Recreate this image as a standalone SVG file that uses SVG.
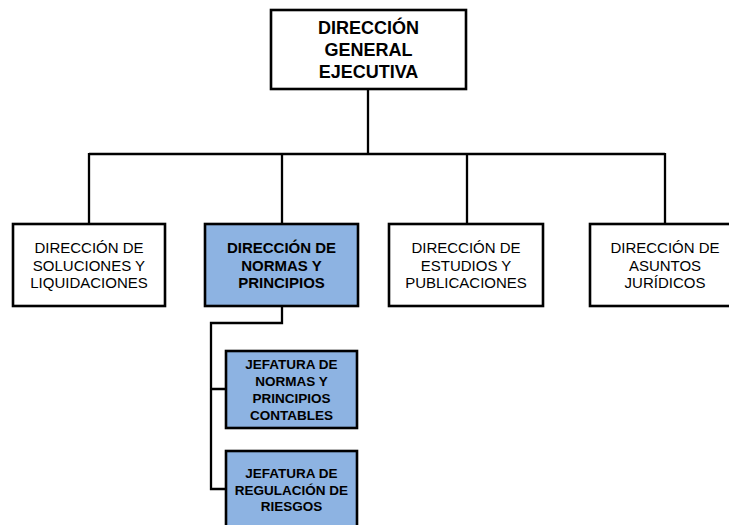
<svg xmlns="http://www.w3.org/2000/svg" width="729" height="525" viewBox="0 0 729 525">
<style>
.box{fill:#ffffff;stroke:#000;stroke-width:2.6}
.blue{fill:#8DB3E2;stroke:#000;stroke-width:2.6}
.t{font-family:"Liberation Sans",Arial,sans-serif;text-anchor:middle;fill:#000}
.r{font-size:15px}
.b{font-size:15px;font-weight:bold}
.top{font-size:18px;font-weight:bold}
.j{font-size:13.5px;font-weight:bold}
.c{fill:none;stroke:#000;stroke-width:2.3}
</style>
<rect width="729" height="525" fill="#fff"/>
<g id="connectors">
<path class="c" d="M368,89 V154 M89,154 H665 M89,153 V224 M282,153 V224 M467,153 V224 M665,153 V224"/>
<path class="c" d="M282,306 V323 H211 V489 H226 M211,389 H226"/>
</g>
<g id="dge">
<rect class="box" x="271" y="10" width="195" height="79"/>
<text class="t top"><tspan x="368.5" y="33.5">DIRECCIÓN</tspan><tspan x="368.5" y="55.5">GENERAL</tspan><tspan x="368.5" y="77.5">EJECUTIVA</tspan></text>
</g>
<g id="dsl">
<rect class="box" x="13" y="224" width="152" height="82"/>
<text class="t r"><tspan x="89" y="253">DIRECCIÓN DE</tspan><tspan x="89" y="270.5">SOLUCIONES Y</tspan><tspan x="89" y="288">LIQUIDACIONES</tspan></text>
</g>
<g id="dnp">
<rect class="blue" x="205" y="224" width="153" height="82"/>
<text class="t b"><tspan x="281.5" y="253">DIRECCIÓN DE</tspan><tspan x="281.5" y="270.5">NORMAS Y</tspan><tspan x="281.5" y="288">PRINCIPIOS</tspan></text>
</g>
<g id="dep">
<rect class="box" x="389" y="224" width="154" height="82"/>
<text class="t r"><tspan x="466" y="253">DIRECCIÓN DE</tspan><tspan x="466" y="270.5">ESTUDIOS Y</tspan><tspan x="466" y="288">PUBLICACIONES</tspan></text>
</g>
<g id="daj">
<rect class="box" x="590" y="224" width="151" height="82"/>
<text class="t r"><tspan x="665" y="253">DIRECCIÓN DE</tspan><tspan x="665" y="270.5">ASUNTOS</tspan><tspan x="665" y="288">JURÍDICOS</tspan></text>
</g>
<g id="jnpc">
<rect class="blue" x="226" y="351" width="131" height="77"/>
<text class="t j"><tspan x="291.5" y="369">JEFATURA DE</tspan><tspan x="291.5" y="386">NORMAS Y</tspan><tspan x="291.5" y="403">PRINCIPIOS</tspan><tspan x="291.5" y="419.5">CONTABLES</tspan></text>
</g>
<g id="jrr">
<rect class="blue" x="226" y="451" width="131" height="90"/>
<text class="t j"><tspan x="291.5" y="478">JEFATURA DE</tspan><tspan x="291.5" y="494.5">REGULACIÓN DE</tspan><tspan x="291.5" y="511">RIESGOS</tspan></text>
</g>
</svg>
